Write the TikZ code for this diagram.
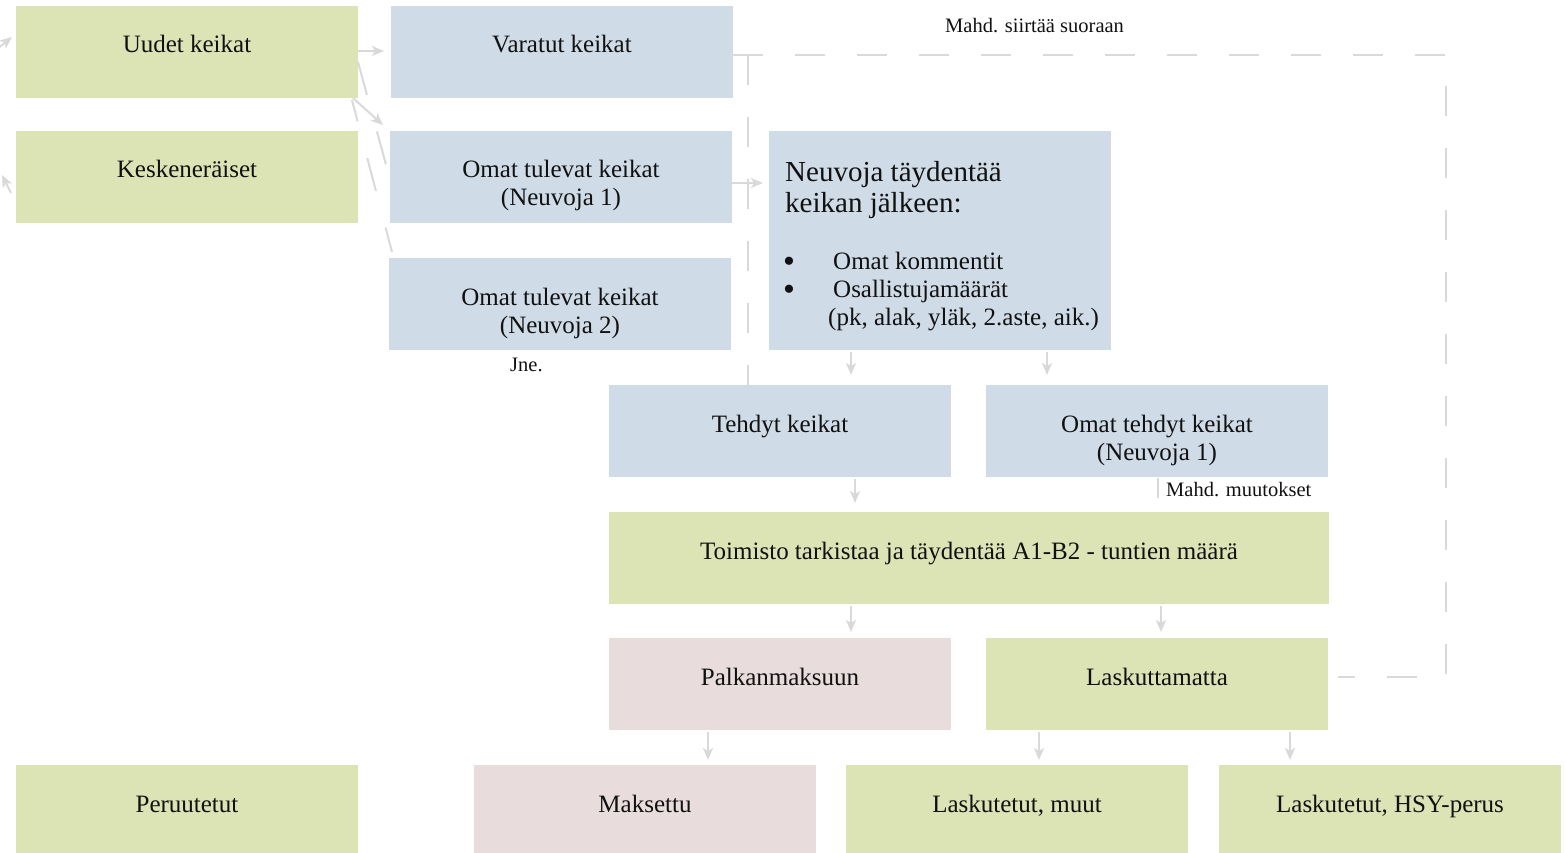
\documentclass[tikz,border=0pt]{standalone}
\usepackage{fontspec}
\setmainfont{Liberation Serif}
\usetikzlibrary{arrows.meta,fit,calc}
\definecolor{boxgreen}{HTML}{DCE3B5}
\definecolor{boxblue}{HTML}{CFDBE6}
\definecolor{boxpink}{HTML}{E8DCDD}
\definecolor{linegray}{HTML}{D9D9D9}
\definecolor{txtcol}{HTML}{111111}
\newcommand\bigbul{\makebox[50pt][l]{\smash{\fontsize{34}{28}\selectfont\raisebox{-3.5pt}{•}}}}
\tikzset{
  box/.style={draw=none, inner sep=0pt, outer sep=0pt},
  gbox/.style={box, fill=boxgreen},
  bbox/.style={box, fill=boxblue},
  pbox/.style={box, fill=boxpink},
  txt/.style={anchor=base, align=center, inner sep=0pt, text=txtcol, font=\fontsize{25}{28}\selectfont},
  small/.style={anchor=base west, inner sep=0pt, text=txtcol, font=\fontsize{20.5}{24}\selectfont},
  conn/.style={draw=linegray, line width=2pt},
  arr/.style={conn, -{Stealth[length=12pt,width=10pt,inset=3pt]}},
  dsh/.style={conn, dash pattern=on 30pt off 32pt},
  dshb/.style={conn, dash pattern=on 34pt off 38pt},
}
\begin{document}
\begin{tikzpicture}[x=1pt,y=-1pt]
\useasboundingbox (0,0) rectangle (1566,853);
% boxes
\node[gbox, fit={(16,6)(358,98)}] (uudet) {};
\node[gbox, fit={(16,131)(358,223)}] (kesk) {};
\node[bbox, fit={(391,6)(733,98)}] (varatut) {};
\node[bbox, fit={(390,131)(732,223)}] (omat1) {};
\node[bbox, fit={(389,258)(731,350)}] (omat2) {};
\node[bbox, fit={(769,131)(1111,350)}] (neuvoja) {};
\node[bbox, fit={(609,385)(951,477)}] (tehdyt) {};
\node[bbox, fit={(986,385)(1328,477)}] (omattehdyt) {};
\node[gbox, fit={(609,512)(1329,604)}] (toimisto) {};
\node[pbox, fit={(609,638)(951,730)}] (palkka) {};
\node[gbox, fit={(986,638)(1328,730)}] (laskuttamatta) {};
\node[gbox, fit={(16,765)(358,853)}] (peruutetut) {};
\node[pbox, fit={(474,765)(816,853)}] (maksettu) {};
\node[gbox, fit={(846,765)(1188,853)}] (muut) {};
\node[gbox, fit={(1219,765)(1561,853)}] (hsy) {};
% texts (base anchor = baseline of last line)
\node[txt] (uudet-t) at ($(uudet.north)+(0,47)$) {Uudet keikat};
\node[txt] (kesk-t) at ($(kesk.north)+(0,47)$) {Keskeneräiset};
\node[txt] (varatut-t) at ($(varatut.north)+(0,47)$) {Varatut keikat};
\node[txt] (omat1-t) at ($(omat1.north)+(0,75)$) {Omat tulevat keikat\\(Neuvoja 1)};
\node[txt] (omat2-t) at ($(omat2.north)+(0,75)$) {Omat tulevat keikat\\(Neuvoja 2)};
\node[txt] (tehdyt-t) at ($(tehdyt.north)+(0,47)$) {Tehdyt keikat};
\node[txt] (omattehdyt-t) at ($(omattehdyt.north)+(0,75)$) {Omat tehdyt keikat\\(Neuvoja 1)};
\node[txt] (toimisto-t) at ($(toimisto.north)+(0,47)$) {Toimisto tarkistaa ja täydentää A1-B2 - tuntien määrä};
\node[txt] (palkka-t) at ($(palkka.north)+(0,47)$) {Palkanmaksuun};
\node[txt] (laskuttamatta-t) at ($(laskuttamatta.north)+(0,47)$) {Laskuttamatta};
\node[txt] (peruutetut-t) at ($(peruutetut.north)+(0,47)$) {Peruutetut};
\node[txt] (maksettu-t) at ($(maksettu.north)+(0,47)$) {Maksettu};
\node[txt] (muut-t) at ($(muut.north)+(0,47)$) {Laskutetut, muut};
\node[txt] (hsy-t) at ($(hsy.north)+(0,47)$) {Laskutetut, HSY-perus};
\node[anchor=base west, align=left, inner sep=0pt, text=txtcol, font=\fontsize{29}{32}\selectfont] (neuvoja-h) at ($(neuvoja.north west)+(16,82)$) {Neuvoja täydentää\\keikan jälkeen:};
\node[anchor=base west, align=left, inner sep=0pt, text=txtcol, font=\fontsize{25}{28}\selectfont] (neuvoja-l) at ($(neuvoja.north west)+(14,194)$) {\bigbul Omat kommentit\\\bigbul Osallistujamäärät\\\hspace*{45pt}(pk, alak, yläk, 2.aste, aik.)};
\node[small] (siirto-t) at (945,33) {Mahd. siirtää suoraan};
\node[small] (jne-t) at ($(omat2.south west)+(121,21)$) {Jne.};
\node[small] (muutokset-t) at ($(omattehdyt.south west)+(180,19)$) {Mahd. muutokset};
% free ends at left border
\coordinate (offa) at (-14,58);
\coordinate (offa-end) at (12,37);
\coordinate (offb) at (11,193);
\coordinate (offb-end) at (2,175);
\draw[arr] (offa) -- (offa-end);
\draw[arr] (offb) -- (offb-end);
% connectors
\draw[arr] ($(uudet.east)+(0,-1)$) -- ($(varatut.west)+(-7,-1)$);
\draw[arr] ($(uudet.south east)+(-5,0)$) -- ($(omat1.north west)+(-7,-6)$);
\draw[dshb] ($(uudet.east)+(0,10)$) -- ($(omat1.west)+(-2,-5)$);
\draw[dshb, dash phase=12pt] ($(uudet.south east)+(-6,2)$) -- ($(omat2.north west)+(3,-6)$);
\draw[arr] ($(omat1.east)+(0,6)$) -- ($(neuvoja.west |- omat1.east)+(-6,6)$);
\draw[arr] ($(neuvoja.south west)+(82,2)$) -- ($(neuvoja.south west |- tehdyt.north)+(82,-10)$);
\draw[arr] ($(neuvoja.south west)+(278,2)$) -- ($(neuvoja.south west |- omattehdyt.north)+(278,-10)$);
\draw[arr] ($(tehdyt.south west)+(246,2)$) -- ($(tehdyt.south west |- toimisto.north)+(246,-9)$);
\draw[conn] ($(omattehdyt.south west)+(172,1)$) -- ($(omattehdyt.south west)+(172,21)$);
\draw[arr] ($(toimisto.south west)+(242,2)$) -- ($(toimisto.south west |- palkka.north)+(242,-6)$);
\draw[arr] ($(toimisto.south west)+(552,2)$) -- ($(toimisto.south west |- laskuttamatta.north)+(552,-6)$);
\draw[arr] ($(palkka.south west)+(99,2)$) -- ($(palkka.south west |- maksettu.north)+(99,-5)$);
\draw[arr] ($(laskuttamatta.south west)+(53,2)$) -- ($(laskuttamatta.south west |- muut.north)+(53,-5)$);
\draw[arr] ($(laskuttamatta.south west)+(304,2)$) -- ($(laskuttamatta.south west |- hsy.north)+(304,-5)$);
% dashed direct-transfer connector
\coordinate (rcorner) at (1446,677);
\draw[dsh] ($(varatut.east)+(0,3)$) -| (rcorner) -- ($(laskuttamatta.east)+(10,-7)$);
\draw[dsh] ($(varatut.east)+(15,3)$) -- ($(varatut.east |- tehdyt.north)+(15,0)$);
\end{tikzpicture}
\end{document}
